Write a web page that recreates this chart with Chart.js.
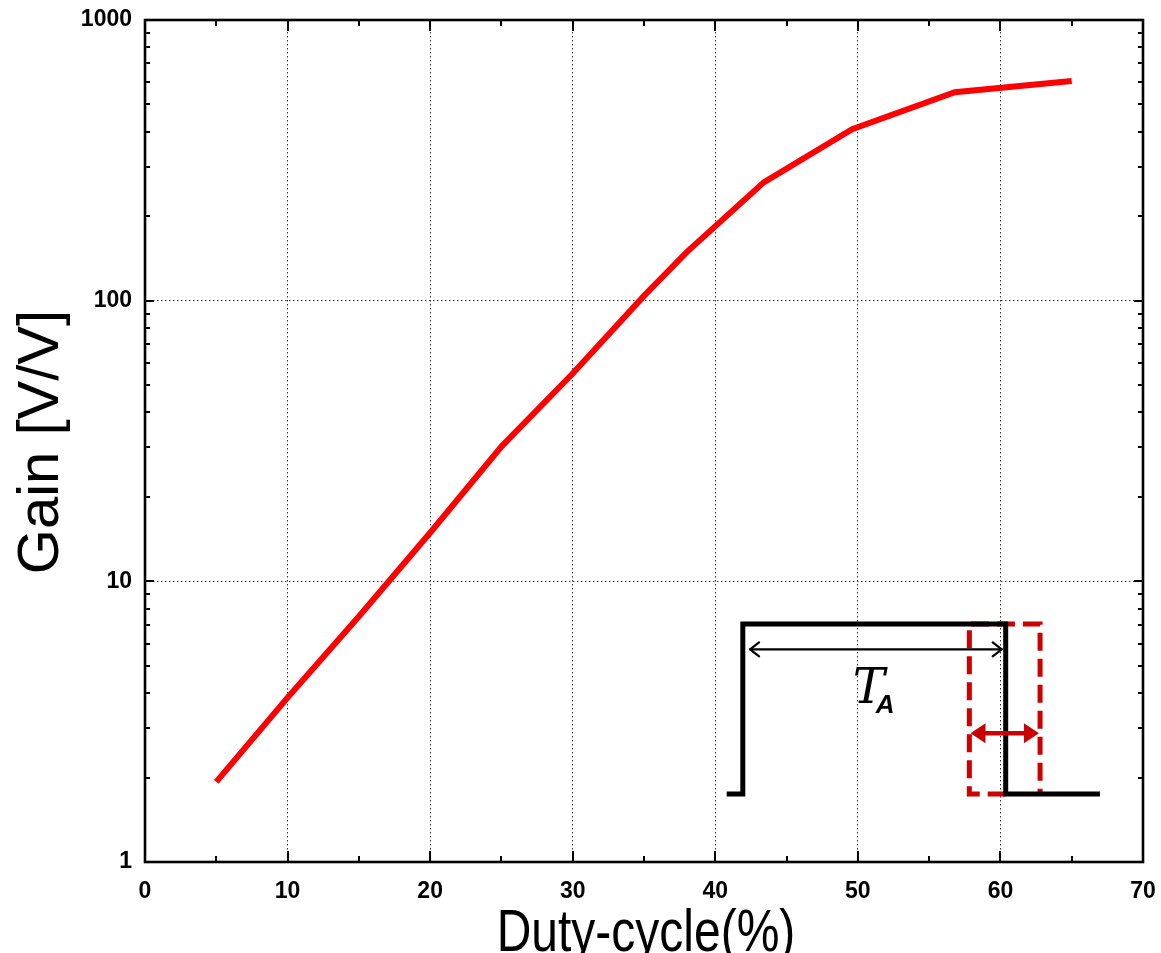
<!DOCTYPE html>
<html>
<head>
<meta charset="utf-8">
<script src="https://cdn.jsdelivr.net/npm/chart.js@4.4.1/dist/chart.umd.min.js"></script>
<style>
html,body{margin:0;padding:0;background:#fff;overflow:hidden;}
#wrap{width:1161px;height:953px;}
canvas{display:block;}
</style>
</head>
<body>
<div id="wrap"><canvas id="c" width="1161" height="953"></canvas></div>
<script>
// ---- data ----
const dutyCycle = [5, 10, 15, 20, 25, 30, 35, 38, 43.4, 49.6, 56.8, 65];
const gain      = [1.93, 3.85, 7.5, 14.9, 30.2, 55, 104, 149, 264, 408, 553, 606];

// inset timing diagram (in data units of the axes)
const pulseX  = [40.8, 41.93, 41.93, 60.37, 60.37, 66.98];
const pulseY  = [1.747, 1.747, 7.05, 7.05, 1.747, 1.747];
const shiftX  = [60.37, 57.82, 57.82, 62.78, 62.78];
const shiftY  = [1.747, 1.747, 7.05, 7.05, 1.747];
const taArrowX = [42.44, 60.09];   const taArrowY = 5.72;
const dArrowX  = [57.9, 62.7];     const dArrowY  = 2.874;
const taLabelPos = [50.7, 3.69];

const xTicks = [0, 10, 20, 30, 40, 50, 60, 70];
const yTicks = [1, 10, 100, 1000];
const xTitle = 'Duty-cycle(%)';
const yTitle = 'Gain [V/V]';

const toPts = (xs, ys) => xs.map((x, i) => ({x: x, y: ys[i]}));

const framePlugin = {
  id: 'frame',
  afterDatasetsDraw(chart) {
    const ctx = chart.ctx;
    const xs = chart.scales.x, ys = chart.scales.y;
    ctx.save();
    // inset arrows
    const ty = ys.getPixelForValue(taArrowY);
    const tx1 = xs.getPixelForValue(taArrowX[0]), tx2 = xs.getPixelForValue(taArrowX[1]);
    ctx.strokeStyle = '#000'; ctx.lineWidth = 2.2; ctx.lineCap = 'round'; ctx.lineJoin = 'round';
    ctx.beginPath(); ctx.moveTo(tx1, ty); ctx.lineTo(tx2, ty); ctx.stroke();
    ctx.beginPath();
    ctx.moveTo(tx1 + 9, ty - 7); ctx.lineTo(tx1, ty); ctx.lineTo(tx1 + 9, ty + 7);
    ctx.moveTo(tx2 - 9, ty - 7); ctx.lineTo(tx2, ty); ctx.lineTo(tx2 - 9, ty + 7);
    ctx.stroke();

    const dy = ys.getPixelForValue(dArrowY);
    const dx1 = xs.getPixelForValue(dArrowX[0]), dx2 = xs.getPixelForValue(dArrowX[1]);
    ctx.strokeStyle = '#cc0000'; ctx.fillStyle = '#cc0000'; ctx.lineWidth = 4.5; ctx.lineCap = 'butt';
    ctx.beginPath(); ctx.moveTo(dx1 + 10, dy); ctx.lineTo(dx2 - 10, dy); ctx.stroke();
    ctx.beginPath(); ctx.moveTo(dx1, dy); ctx.lineTo(dx1 + 15, dy - 10); ctx.lineTo(dx1 + 15, dy + 10); ctx.closePath(); ctx.fill();
    ctx.beginPath(); ctx.moveTo(dx2, dy); ctx.lineTo(dx2 - 15, dy - 10); ctx.lineTo(dx2 - 15, dy + 10); ctx.closePath(); ctx.fill();

    // T_A label
    const lx = xs.getPixelForValue(taLabelPos[0]), ly = ys.getPixelForValue(taLabelPos[1]);
    ctx.fillStyle = '#000'; ctx.textAlign = 'left'; ctx.textBaseline = 'alphabetic';
    ctx.font = 'italic 48px "DejaVu Serif", "Liberation Serif", serif';
    ctx.fillText('T', lx - 15, ly);
    ctx.font = 'bold italic 26px "Liberation Sans", Arial, sans-serif';
    ctx.fillText('A', lx + 8, ly + 10);
    ctx.restore();
  },
  afterDraw(chart) {
    const ctx = chart.ctx, a = chart.chartArea;
    const xs = chart.scales.x, ys = chart.scales.y;
    ctx.save();
    ctx.strokeStyle = '#000'; ctx.lineCap = 'butt';
    // inward tick marks
    ctx.lineWidth = 2;
    ctx.beginPath();
    for (let v = 0; v <= 70; v += 5) {
      const px = Math.round(xs.getPixelForValue(v));
      const len = (v % 10 === 0) ? 11 : 6;
      ctx.moveTo(px, a.bottom); ctx.lineTo(px, a.bottom - len);
      ctx.moveTo(px, a.top); ctx.lineTo(px, a.top + len);
    }
    for (let k = 0; k < 3; k++) {
      for (let m = 1; m <= 10; m++) {
        const v = m * Math.pow(10, k);
        const py = Math.round(ys.getPixelForValue(v));
        const len = (m === 1 || m === 10) ? 9 : 5;
        ctx.moveTo(a.left, py); ctx.lineTo(a.left + len, py);
        ctx.moveTo(a.right, py); ctx.lineTo(a.right - len, py);
      }
    }
    ctx.stroke();
    // frame
    ctx.lineWidth = 2.6;
    ctx.strokeRect(a.left, a.top, a.right - a.left, a.bottom - a.top);

    // axis titles
    ctx.fillStyle = '#000';
    ctx.textAlign = 'center'; ctx.textBaseline = 'alphabetic';
    ctx.save();
    ctx.translate(646, 951);
    ctx.scale(0.8, 1);
    ctx.font = '60px "Liberation Sans", Arial, sans-serif';
    ctx.fillText(xTitle, 0, 0);
    ctx.restore();

    ctx.save();
    ctx.translate(58, 442);
    ctx.rotate(-Math.PI / 2);
    ctx.font = '58px "Liberation Sans", Arial, sans-serif';
    ctx.fillText(yTitle, 0, 0);
    ctx.restore();
    ctx.restore();
  }
};

function noPad(s) { s.paddingLeft = 0; s.paddingRight = 0; s.paddingTop = 0; s.paddingBottom = 0; }

new Chart(document.getElementById('c'), {
  type: 'line',
  data: {
    datasets: [
      { label: 'Gain', data: toPts(dutyCycle, gain), borderColor: '#ff0000', borderWidth: 6,
        pointRadius: 0, tension: 0, order: 0, borderCapStyle: 'butt', borderJoinStyle: 'miter' },
      { label: 'pulse', data: toPts(pulseX, pulseY), borderColor: '#000', borderWidth: 5,
        pointRadius: 0, tension: 0, order: 1, borderJoinStyle: 'miter', borderCapStyle: 'butt' },
      { label: 'shift', data: toPts(shiftX, shiftY), borderColor: '#cc0000', borderWidth: 5,
        borderDash: [18, 8], pointRadius: 0, tension: 0, order: 2, borderJoinStyle: 'miter', borderCapStyle: 'butt' }
    ]
  },
  options: {
    responsive: false,
    animation: false,
    layout: { padding: { top: 20, right: 18, left: 0, bottom: 0 } },
    plugins: { legend: { display: false }, tooltip: { enabled: false } },
    scales: {
      x: {
        type: 'linear', min: 0, max: 70,
        afterFit(s) { s.height = 91; noPad(s); },
        afterBuildTicks(s) { s.ticks = []; for (let v = 0; v <= 70; v += 5) s.ticks.push({value: v}); },
        ticks: {
          autoSkip: false, maxRotation: 0, padding: 16, color: '#000',
          font: { family: '"Liberation Sans", Arial, sans-serif', size: 23, weight: 'bold' },
          callback: (v) => xTicks.includes(v) ? String(v) : ''
        },
        grid: {
          drawTicks: false, lineWidth: 1,
          color: (c) => (c.tick && c.tick.value % 10 === 0 && c.tick.value > 0 && c.tick.value < 70) ? '#333' : 'rgba(0,0,0,0)'
        },
        border: { display: false, dash: [1.5, 2.5] }
      },
      y: {
        type: 'logarithmic', min: 1, max: 1000,
        afterFit(s) { s.width = 145; noPad(s); },
        afterBuildTicks(s) {
          s.ticks = [];
          for (let k = 0; k < 3; k++) for (let m = 1; m < 10; m++) s.ticks.push({value: m * Math.pow(10, k)});
          s.ticks.push({value: 1000});
        },
        ticks: {
          autoSkip: false, padding: 13, color: '#000',
          font: { family: '"Liberation Sans", Arial, sans-serif', size: 23, weight: 'bold' },
          callback: (v) => yTicks.includes(v) ? String(v) : ''
        },
        grid: {
          drawTicks: false, lineWidth: 1,
          color: (c) => (c.tick && (c.tick.value === 10 || c.tick.value === 100)) ? '#333' : 'rgba(0,0,0,0)'
        },
        border: { display: false, dash: [1.5, 2.5] }
      }
    }
  },
  plugins: [framePlugin]
});
</script>
</body>
</html>
